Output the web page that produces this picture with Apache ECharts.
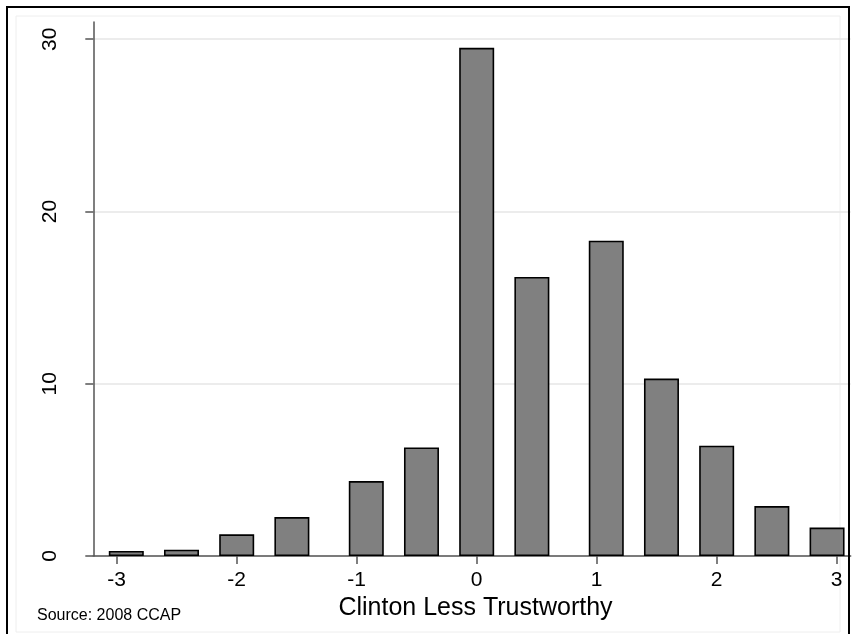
<!DOCTYPE html>
<html>
<head>
<meta charset="utf-8">
<script src="https://cdn.jsdelivr.net/npm/echarts@6/dist/echarts.min.js"></script>
<style>
  html, body { margin: 0; padding: 0; background: #fff; }
  #chart { width: 854px; height: 634px; }
</style>
</head>
<body>
<div id="chart"></div>
<script>
// Bin midpoints on the trust-difference scale and the percent of respondents in each bin
var binCenters = [-2.92, -2.46, -2.00, -1.54, -0.92, -0.46, 0, 0.46, 1.08, 1.54, 2.00, 2.46, 2.92];
var percents   = [0.29, 0.37, 1.26, 2.26, 4.35, 6.3, 29.5, 16.2, 18.3, 10.3, 6.4, 2.9, 1.65];
var xTicks = [-3, -2, -1, 0, 1, 2, 3];
var yTicks = [0, 10, 20, 30];
var xTitle = 'Clinton Less Trustworthy';
var sourceNote = 'Source: 2008 CCAP';

var font = '"Liberation Sans", Arial, Helvetica, sans-serif';
var chart = echarts.init(document.getElementById('chart'), null, { renderer: 'canvas' });

var barData = binCenters.map(function (x, i) { return [x, percents[i]]; });

chart.setOption({
  animation: false,
  backgroundColor: '#ffffff',
  grid: { left: 93.3, right: 3.3, top: 22, bottom: 78, containLabel: false },
  title: [{
    text: sourceNote,
    left: 37,
    top: 608,
    padding: 0,
    textStyle: { fontFamily: font, fontSize: 16, fontWeight: 'normal', color: '#000' }
  }],
  xAxis: {
    type: 'value',
    min: -3.195,
    max: 3.117,
    name: xTitle,
    nameLocation: 'middle',
    nameGap: 36,
    nameTextStyle: { fontFamily: font, fontSize: 25, color: '#000', padding: [0, 0, 0, 7] },
    axisLine: { show: true, onZero: false, lineStyle: { color: '#555', width: 1.5 } },
    axisTick: { show: true, length: 8, customValues: xTicks, lineStyle: { color: '#555', width: 1.5 } },
    axisLabel: { customValues: xTicks, margin: 14, fontFamily: font, fontSize: 21, color: '#000' },
    splitLine: { show: false }
  },
  yAxis: {
    type: 'value',
    min: 0,
    max: 31,
    interval: 10,
    axisLine: { show: true, onZero: false, lineStyle: { color: '#555', width: 1.5 } },
    axisTick: { show: true, length: 8, customValues: yTicks, lineStyle: { color: '#555', width: 1.5 } },
    axisLabel: { customValues: yTicks, rotate: 90, margin: 33, fontFamily: font, fontSize: 21, color: '#000' },
    splitLine: { show: true, lineStyle: { color: '#e6e6e6', width: 1.5 } }
  },
  series: [{
    type: 'bar',
    data: barData,
    barWidth: 35,
    itemStyle: { color: '#808080', borderColor: '#000', borderWidth: 1.6 }
  }],
  graphic: [
    // outer frame of the graph region
    { type: 'rect', shape: { x: 7, y: 7, width: 842, height: 640 },
      style: { fill: 'none', stroke: '#000', lineWidth: 2 }, silent: true, z: 100 },
    // inner plot-region outline
    { type: 'rect', shape: { x: 16, y: 16, width: 824, height: 616 },
      style: { fill: 'none', stroke: '#eeeeee', lineWidth: 1 }, silent: true, z: -1 }
  ]
});
</script>
</body>
</html>
